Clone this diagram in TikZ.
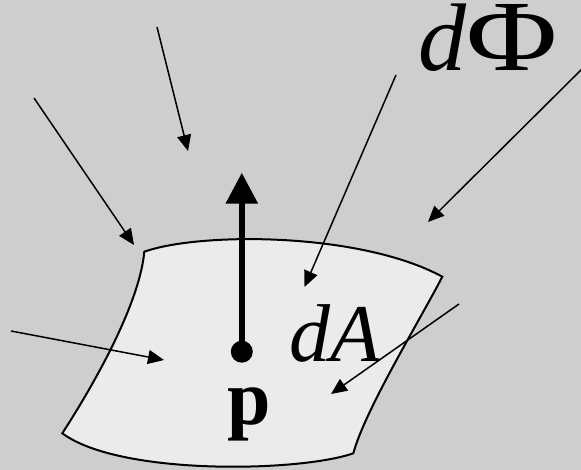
\documentclass[tikz,border=0pt]{standalone}
\usepackage{fontspec}
\setmainfont{Liberation Serif}
\usetikzlibrary{arrows.meta}
\definecolor{bggray}{RGB}{206,206,206}
\definecolor{patchgray}{RGB}{235,235,235}
\tikzset{
  ray/.style={line width=1.5pt,-{Triangle[length=16pt,width=14pt]}},
  normalarrow/.style={line width=6pt,-{Triangle[length=31pt,width=31pt]}},
  lbl/.style={inner sep=0pt,outer sep=0pt}
}
\begin{document}
\begin{tikzpicture}[x=1pt,y=-1pt]
\fill[bggray] (0,0) rectangle (581,470);
\useasboundingbox (0,0) rectangle (581,470);
% patch
\draw[line width=2pt,fill=patchgray,line join=miter]
  (144.3,251.7) .. controls (200,232) and (360,232) .. (442.3,276.7)
  .. controls (420,320) and (365,410) .. (353.3,453.3)
  .. controls (300,472) and (120,476) .. (62.3,433.3)
  .. controls (100,375) and (140,300) .. cycle;
% coordinates
\coordinate (s1) at (157,27);   \coordinate (t1) at (188,151);
\coordinate (s2) at (34,98);    \coordinate (t2) at (134,245);
\coordinate (s3) at (396,75);   \coordinate (t3) at (304.5,287);
\coordinate (s4) at (583,68);   \coordinate (t4) at (428,222);
\coordinate (s5) at (11,331);   \coordinate (t5) at (164,360);
\coordinate (s6) at (459,304);  \coordinate (t6) at (331,394);
\coordinate (p) at (241.8,351.7);
\coordinate (n) at (241.8,172.7);
% rays
\draw[ray] (s1) -- (t1);
\draw[ray] (s2) -- (t2);
\draw[ray] (s3) -- (t3);
\draw[ray] (s4) -- (t4);
\draw[ray] (s5) -- (t5);
\draw[ray] (s6) -- (t6);
% normal
\draw[normalarrow] (p) -- (n);
\fill (p) circle (11pt);
% labels
\node[lbl,anchor=base west] (dphi) at (418,71) {\fontsize{96}{96}\selectfont\itshape d\upshape\scalebox{1.3}[1.05]{Φ}};
\node[lbl,anchor=base west] (dA) at (289,361) {\fontsize{82}{82}\selectfont\itshape dA};
\node[lbl,anchor=base] (plabel) at (249.5,424) {\fontsize{78}{78}\selectfont\bfseries p};
\end{tikzpicture}
\end{document}
